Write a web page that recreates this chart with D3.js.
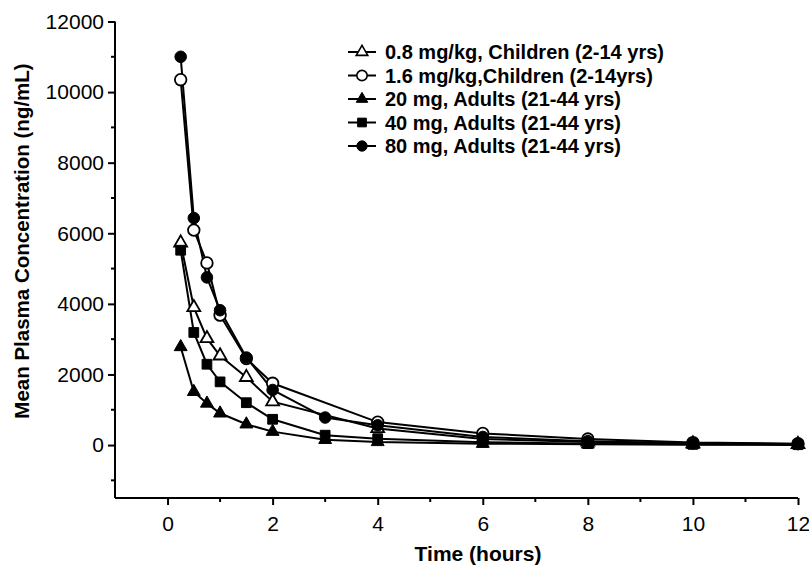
<!DOCTYPE html>
<html lang="en">
<head>
<meta charset="UTF-8">
<title>Mean Plasma Concentration</title>
<style>
  body { margin: 0; background: #fff; }
  text { font-family: "Liberation Sans", Arial, sans-serif; fill: #000; }
</style>
</head>
<body>
<div id="chart"></div>
<script src="https://cdn.jsdelivr.net/npm/d3@7"></script>
<script>
// data (hours, ng/mL)
const timesAdult = [0.25, 0.5, 0.75, 1, 1.5, 2, 3, 4, 6, 8, 10, 12];
const timesChild = [0.25, 0.5, 0.75, 1, 1.5, 2, 4, 6, 8, 10, 12];

const child08 = [5730, 3900, 3020, 2530, 1920, 1230, 470, 170, 90, 40, 20];
const child16 = [10350, 6090, 5160, 3680, 2450, 1750, 650, 330, 170, 70, 40];
const adult20 = [2780, 1510, 1180, 900, 590, 380, 150, 90, 40, 20, 10, 5];
const adult40 = [5520, 3190, 2290, 1790, 1200, 730, 280, 180, 80, 40, 20, 10];
const adult80 = [11000, 6430, 4750, 3820, 2480, 1560, 780, 560, 230, 110, 50, 30];

const seriesNames = [
  "0.8 mg/kg, Children (2-14 yrs)",
  "1.6 mg/kg,Children (2-14yrs)",
  "20 mg, Adults (21-44 yrs)",
  "40 mg, Adults (21-44 yrs)",
  "80 mg, Adults (21-44 yrs)"
];

const xTicks = [0, 2, 4, 6, 8, 10, 12];
const yTicks = [0, 2000, 4000, 6000, 8000, 10000, 12000];

const W = 809, H = 571;

const series = [
  { name: seriesNames[0], t: timesChild, v: child08, shape: d3.symbolTriangle, open: true },
  { name: seriesNames[1], t: timesChild, v: child16, shape: d3.symbolCircle, open: true },
  { name: seriesNames[2], t: timesAdult, v: adult20, shape: d3.symbolTriangle, open: false },
  { name: seriesNames[3], t: timesAdult, v: adult40, shape: d3.symbolSquare, open: false },
  { name: seriesNames[4], t: timesAdult, v: adult80, shape: d3.symbolCircle, open: false }
];

function symSize(shape) {
  if (shape === d3.symbolTriangle) return 72;
  if (shape === d3.symbolSquare) return 95;
  return 105;
}

const x = d3.scaleLinear().domain([-1, 12]).range([115, 798]);
const y = d3.scaleLinear().domain([-1500, 12000]).range([498, 21.5]);

const svg = d3.select("#chart").append("svg")
  .attr("width", W).attr("height", H);

// axes
const xAxis = svg.append("g")
  .attr("transform", `translate(0,${y(-1500)})`)
  .call(d3.axisBottom(x).tickValues(xTicks).tickSize(7).tickPadding(11).tickFormat(d3.format("d")));
xAxis.append("g").selectAll("line")
  .data(d3.range(1, 12, 2))
  .join("line")
  .attr("x1", d => x(d)).attr("x2", d => x(d))
  .attr("y1", 0).attr("y2", 4)
  .attr("stroke", "#000").attr("stroke-width", 2);

const yAxis = svg.append("g")
  .attr("transform", `translate(${x(-1)},0)`)
  .call(d3.axisLeft(y).tickValues(yTicks).tickSize(7).tickPadding(4).tickFormat(d3.format("d")));
yAxis.append("g").selectAll("line")
  .data(d3.range(-1000, 12000, 2000))
  .join("line")
  .attr("y1", d => y(d)).attr("y2", d => y(d))
  .attr("x1", 0).attr("x2", -4)
  .attr("stroke", "#000").attr("stroke-width", 2);

[xAxis, yAxis].forEach(g => {
  g.select(".domain").attr("stroke", "#000").attr("stroke-width", 2)
    .attr("d", g === xAxis ? `M${x(-1)},0H${x(12)}` : `M0,${y(12000)}V${y(-1500)}`);
  g.selectAll(".tick line").attr("stroke", "#000").attr("stroke-width", 2);
  g.selectAll(".tick text")
    .style("font-family", '"Liberation Sans", Arial, sans-serif')
    .style("font-size", "21px").attr("fill", "#000");
});

// axis titles
svg.append("text")
  .attr("x", 478).attr("y", 561)
  .attr("text-anchor", "middle")
  .style("font-size", "21px").style("font-weight", "bold")
  .text("Time (hours)");

svg.append("text")
  .attr("transform", `translate(29,${(62 + 420) / 2}) rotate(-90)`)
  .attr("text-anchor", "middle")
  .style("font-size", "20.5px").style("font-weight", "bold")
  .text("Mean Plasma Concentration (ng/mL)");

// lines + markers
const line = d3.line().x(d => x(d[0])).y(d => y(d[1]));

series.forEach(s => {
  const pts = s.t.map((t, i) => [t, s.v[i]]);
  svg.append("path")
    .datum(pts)
    .attr("d", line)
    .attr("fill", "none")
    .attr("stroke", "#000")
    .attr("stroke-width", 2);
});

series.forEach(s => {
  const pts = s.t.map((t, i) => [t, s.v[i]]);
  svg.append("g").selectAll("path")
    .data(pts)
    .join("path")
    .attr("transform", d => `translate(${x(d[0])},${y(d[1])})`)
    .attr("d", d3.symbol().type(s.shape).size(symSize(s.shape)))
    .attr("fill", s.open ? "#fff" : "#000")
    .attr("stroke", "#000")
    .attr("stroke-width", s.open ? 1.8 : 1);
});

// legend
const legend = svg.append("g").attr("transform", "translate(348,52)");
const rows = legend.selectAll("g")
  .data(series)
  .join("g")
  .attr("transform", (d, i) => `translate(0,${i * 23.5})`);

rows.append("line")
  .attr("x1", 0).attr("x2", 28)
  .attr("stroke", "#000").attr("stroke-width", 2);

rows.append("path")
  .attr("transform", "translate(14,0)")
  .attr("d", d => d3.symbol().type(d.shape).size(symSize(d.shape) * 0.8)())
  .attr("fill", d => d.open ? "#fff" : "#000")
  .attr("stroke", "#000")
  .attr("stroke-width", d => d.open ? 1.6 : 1);

rows.append("text")
  .attr("x", 37).attr("y", 7)
  .style("font-size", "20px").style("font-weight", "bold")
  .text(d => d.name);
</script>
</body>
</html>
